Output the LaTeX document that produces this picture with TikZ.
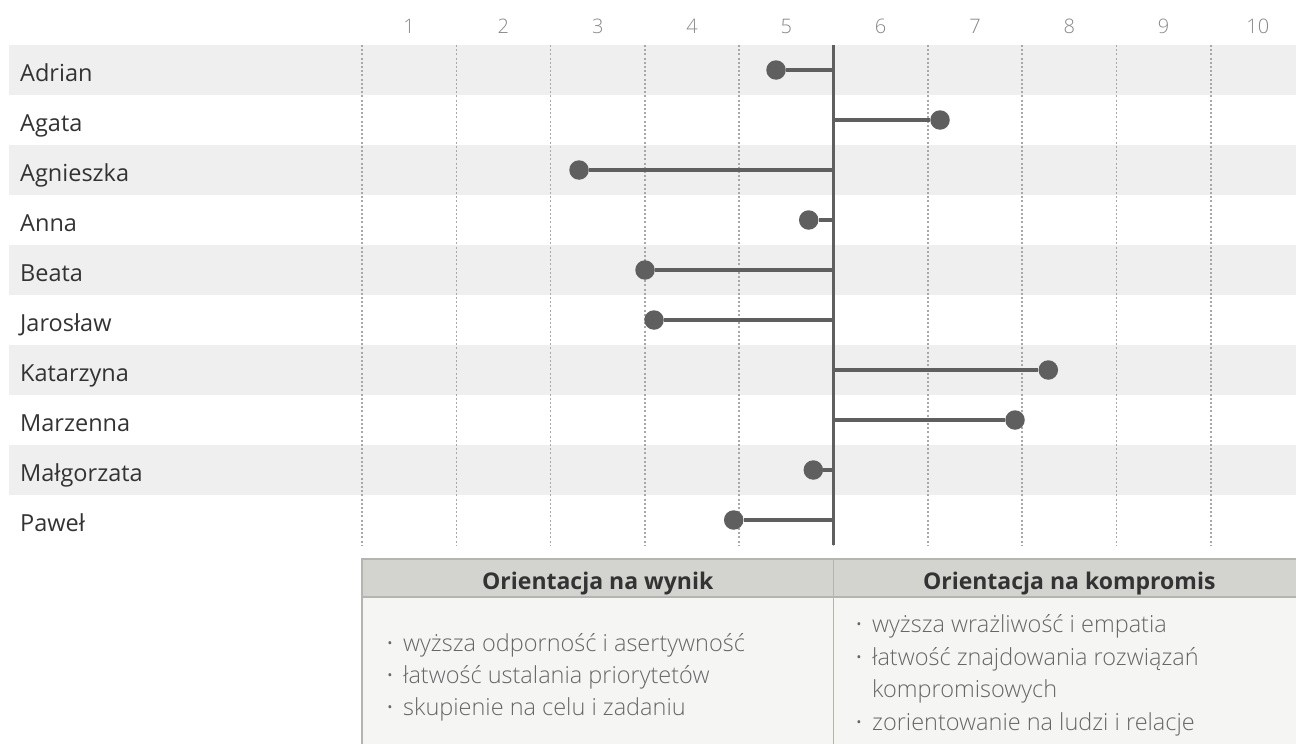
\documentclass[tikz,border=0pt]{standalone}
\usepackage{fontspec}
\setmainfont{Open Sans}
\IfFontExistsTF{Open Sans Light}{\newfontfamily\lightfont{Open Sans Light}}{\newfontfamily\lightfont{Open Sans}}
\IfFontExistsTF{Open Sans SemiBold}{\newfontfamily\semifont{Open Sans SemiBold}}{\newcommand\semifont{\bfseries}}

\definecolor{bandgray}{HTML}{EFEFEF}
\definecolor{gridgray}{HTML}{A8A8A8}
\definecolor{stemgray}{HTML}{5F5F5F}
\definecolor{namegray}{HTML}{333333}
\definecolor{numgray}{HTML}{888888}
\definecolor{headfill}{HTML}{D3D3CF}
\definecolor{boxline}{HTML}{B4B4B0}
\definecolor{bodyfill}{HTML}{F5F6F4}
\definecolor{bodytext}{HTML}{666666}

\newcommand\bul{\llap{{\normalfont\textperiodcentered}\hspace{10pt}}}

\tikzset{
  band/.style={fill=bandgray},
  gridline/.style={draw=gridgray,line width=1.6pt,dash pattern=on 2pt off 2.2pt},
  axisline/.style={draw=stemgray,line width=3.5pt},
  stem/.style={draw=stemgray,line width=3.5pt},
  dot/.style={circle,fill=stemgray,inner sep=0pt,minimum size=19.5pt},
  person/.style={anchor=base west,inner sep=0pt,text=namegray,font=\fontsize{23.5}{28}\selectfont},
  scale num/.style={anchor=base,inner sep=0pt,text=numgray,font=\lightfont\fontsize{20}{24}\selectfont},
  headbox/.style={draw=boxline,line width=1.5pt,fill=headfill,minimum width=471.5pt,
    minimum height=38pt,inner sep=0pt},
  headtext/.style={anchor=base,inner sep=0pt,text=namegray,font=\semifont\fontsize{23}{28}\selectfont},
  bodybox/.style={draw=boxline,line width=1.5pt,fill=bodyfill,minimum width=471.5pt,
    minimum height=154pt,inner sep=0pt},
  bodyline/.style={anchor=base west,inner sep=0pt,text=bodytext,
    font=\lightfont\fontsize{23.5}{28}\selectfont},
}

\begin{document}
\begin{tikzpicture}[x=1pt,y=-1pt]
\useasboundingbox (0,0) rectangle (1296,744);

% row bands
\foreach \r in {0,2,4,6,8}
  \fill[band] (9,45+50*\r) rectangle (1296,95+50*\r);

% scale
\foreach \k in {0,...,9}
  \draw[gridline] (362+94.3*\k,45) -- (362+94.3*\k,545);
\foreach \n in {1,...,10}
  \node[scale num] (num\n) at (362+94.3*\n-47.15,33) {\n};

\coordinate (axistop) at (833.5,45);
\coordinate (axisbot) at (833.5,545);
\draw[axisline] (axistop) -- (axisbot);

% people
\foreach \who/\px [count=\i] in {Adrian/776,Agata/940,Agnieszka/579,Anna/808.7,
    Beata/645,Jarosław/654,Katarzyna/1048.3,Marzenna/1015,Małgorzata/813.3,Paweł/733.7}
{
  \node[person] (who\i) at (20,31.5+50*\i) {\who};
  \coordinate (ax\i) at (833.5,20+50*\i);
  \node[dot] (dot\i) at (\px,20+50*\i) {};
  \draw[stem] (ax\i) -- (dot\i);
}

% table
\node[bodybox] (wynikbody) at (597.75,674) {};
\node[bodybox] (kompbody)  at (1069.25,674) {};
\node[headbox] (wynik)     at (597.75,578) {};
\node[headbox] (komp)      at (1069.25,578) {};
\node[headtext] (wyniktxt) at (597.75,589) {Orientacja na wynik};
\node[headtext] (komptxt)  at (1069.25,589) {Orientacja na kompromis};

\foreach \txt [count=\j] in {\bul wyższa odporność i asertywność,
    \bul łatwość ustalania priorytetów,\bul skupienie na celu i zadaniu}
  \node[bodyline] (wynik\j) at (403,619+32*\j) {\txt};
\foreach \txt [count=\j] in {\bul wyższa wrażliwość i empatia,
    \bul łatwość znajdowania rozwiązań,kompromisowych,\bul zorientowanie na ludzi i relacje}
  \node[bodyline] (komp\j) at (872,599.5+32.8*\j) {\txt};
\end{tikzpicture}
\end{document}
